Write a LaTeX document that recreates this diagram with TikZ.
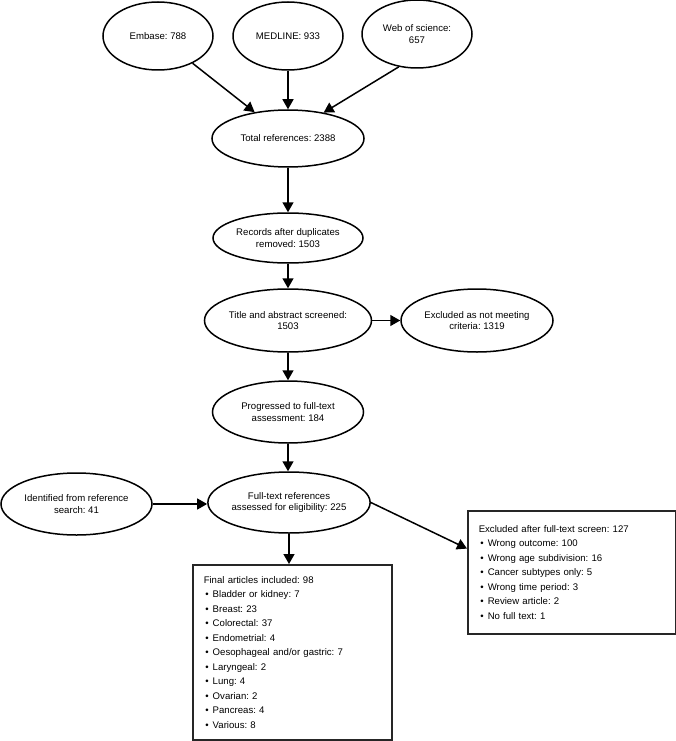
\documentclass[tikz,border=0pt]{standalone}
\usepackage{fontspec}
\setmainfont{Liberation Sans}
\usetikzlibrary{shapes.geometric,arrows.meta,calc}
\newcommand\lstbul{\hspace*{1.5pt}\makebox[7.5pt][l]{•}}
\frenchspacing
\begin{document}
\begin{tikzpicture}[x=1pt,y=-1pt,
  ell/.style={draw,ellipse,line width=1.5pt,inner sep=0pt,align=center,
    font=\frenchspacing\fontsize{9.6}{11.7}\selectfont},
  listbox/.style={draw,rectangle,line width=1.5pt,draw=black!85,inner xsep=11pt,inner ysep=0pt,
    align=left,anchor=north west,font=\frenchspacing\fontsize{9.6}{14.5}\selectfont},
  arr/.style={line width=1.5pt,-{Triangle[length=10pt,width=11pt]}}]
\useasboundingbox (0,0) rectangle (676,741);
\node[ell,minimum width=110pt,minimum height=68pt] (emb) at (158,36) {Embase: 788};
\node[ell,minimum width=110pt,minimum height=68pt] (med) at (288,36) {MEDLINE: 933};
\node[ell,minimum width=110pt,minimum height=68pt] (web) at (417,34) {Web of science:\\657};
\node[ell,minimum width=152pt,minimum height=57pt] (tot) at (288,138.5) {Total references: 2388};
\node[ell,minimum width=150pt,minimum height=50pt] (rec) at (288,238) {Records after duplicates\\removed: 1503};
\node[ell,minimum width=151pt,minimum height=63pt] (tit) at (288,320.5) {Title and abstract screened:\\1503};
\node[ell,minimum width=152pt,minimum height=63pt] (exc) at (477,320.5) {Excluded as not meeting\\criteria: 1319};
\node[ell,minimum width=151pt,minimum height=62pt] (pro) at (288,412) {Progressed to full-text\\assessment: 184};
\node[ell,minimum width=151pt,minimum height=61pt] (ft) at (289,502.5) {Full-text references\\assessed for eligibility: 225};
\node[ell,minimum width=151pt,minimum height=62pt] (idf) at (76.5,504) {Identified from reference\\search: 41};
\node[listbox,text width=177pt,minimum height=175pt] (fin) at (192,564) {Final articles included: 98\\
\lstbul Bladder or kidney: 7\\
\lstbul Breast: 23\\
\lstbul Colorectal: 37\\
\lstbul Endometrial: 4\\
\lstbul Oesophageal and/or gastric: 7\\
\lstbul Laryngeal: 2\\
\lstbul Lung: 4\\
\lstbul Ovarian: 2\\
\lstbul Pancreas: 4\\
\lstbul Various: 8};
\node[listbox,text width=186pt,minimum height=123pt] (exb) at (467,510) {Excluded after full-text screen: 127\\
\lstbul Wrong outcome: 100\\
\lstbul Wrong age subdivision: 16\\
\lstbul Cancer subtypes only: 5\\
\lstbul Wrong time period: 3\\
\lstbul Review article: 2\\
\lstbul No full text: 1};
\draw[arr] (emb) -- (tot);
\draw[arr] (med) -- (tot);
\draw[arr] (web.241) -- (tot.36);
\draw[arr] (tot) -- (rec);
\draw[arr] (rec) -- (tit);
\draw[arr] (tit) -- (exc);
\draw[arr] (tit) -- (pro);
\draw[arr] (pro) -- (pro |- ft.north);
\draw[arr] (idf.east) -- (idf.east -| ft.west);
\draw[arr] (ft.south) -- (ft.south |- fin.north);
\draw[arr] (ft.east) -- ($(exb.north west)!0.31!(exb.south west)$);
\end{tikzpicture}
\end{document}
